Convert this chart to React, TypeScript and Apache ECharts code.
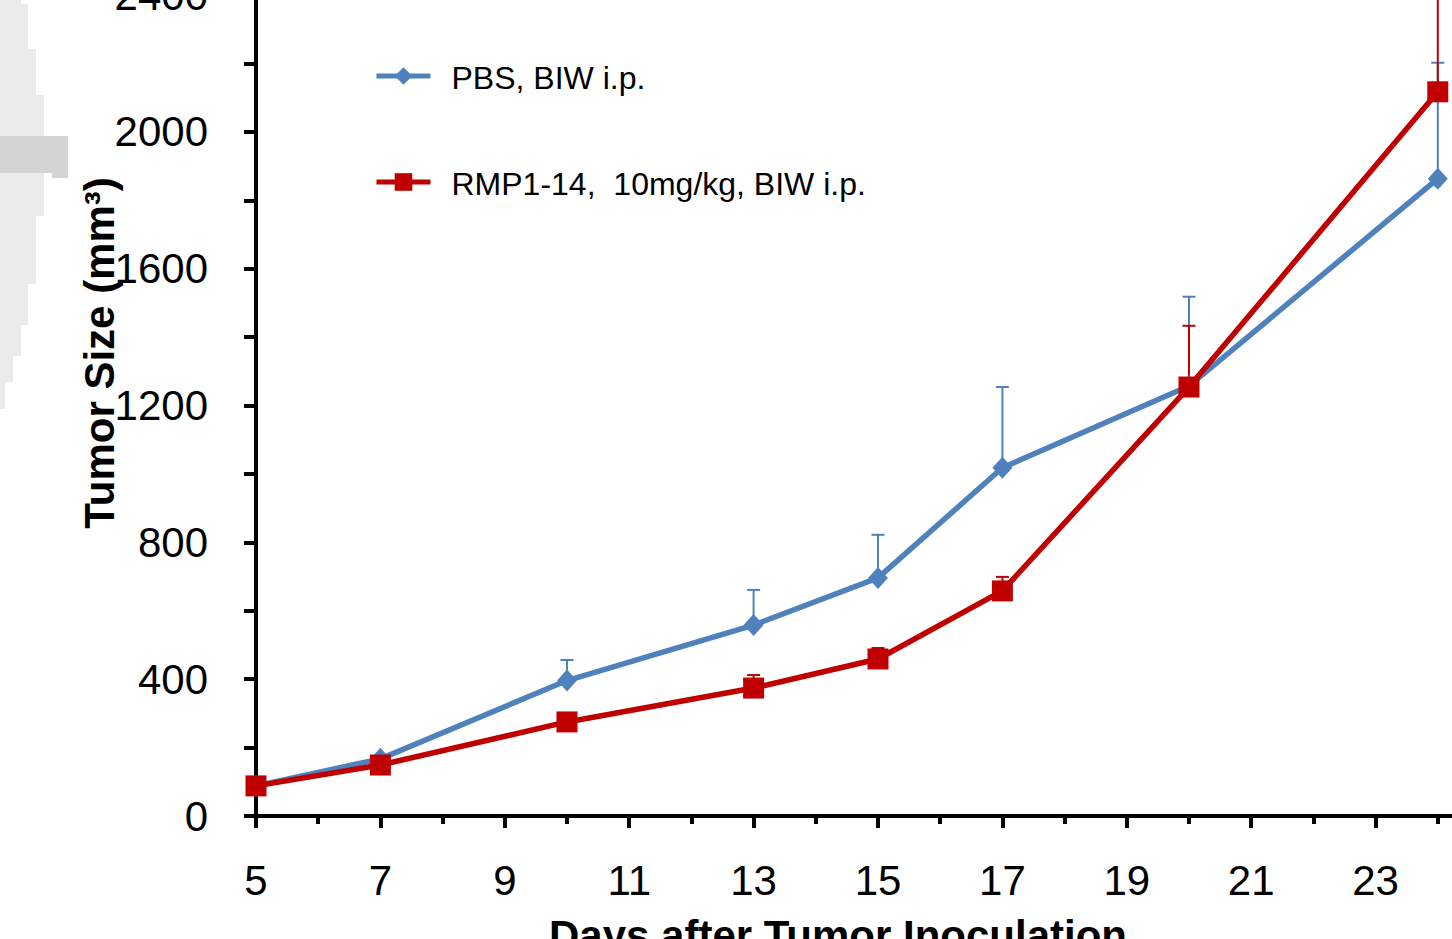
import React, { useEffect, useRef } from "react";
import * as echarts from "echarts";

const days = [5, 7, 10, 13, 15, 17, 20, 24];
const pbsMean = [88, 167, 396, 558, 696, 1018, 1257, 1863];
const pbsErr = [6, 10, 60, 103, 126, 236, 261, 339];
const rmpMean = [88, 149, 275, 374, 459, 658, 1254, 2117];
const rmpErr = [5, 8, 20, 38, 32, 41, 179, 420];
const seriesNames = ["PBS, BIW i.p.", "RMP1-14,  10mg/kg, BIW i.p."];
const colors = ["#4F81BD", "#C00000"];
const yTitle = "Tumor Size (mm³)";
const xTitle = "Days after Tumor Inoculation";

const FONT = '"Liberation Sans", Arial, sans-serif';
// the chart canvas is larger than the page and shifted, so that the plot is cropped as in the reference
const OFF_Y = 40;
const W = 1560;
const H = 939 + OFF_Y;

// light gray stepped artifact at the left edge [x, y, w, h, dark]
const artifact: [number, number, number, number, number][] = [
  [0, 0, 21, 4, 0],
  [0, 4, 28, 45, 0],
  [0, 49, 36, 46, 0],
  [0, 95, 44, 41, 0],
  [0, 136, 68, 37, 1],
  [52, 173, 16, 5, 1],
  [0, 173, 44, 43, 0],
  [0, 216, 36, 68, 0],
  [0, 284, 28, 41, 0],
  [0, 325, 21, 31, 0],
  [0, 356, 13, 26, 0],
  [0, 382, 5, 27, 0],
];

function errSeries(name: string, means: number[], errs: number[], color: string) {
  return {
    type: "custom",
    name,
    clip: false,
    silent: true,
    data: days.map((d, i) => [d, means[i], means[i] + errs[i]]),
    encode: { x: 0, y: [1, 2] },
    renderItem: (_params: any, api: any) => {
      const x = api.value(0);
      const p0 = api.coord([x, api.value(1)]);
      const p1 = api.coord([x, api.value(2)]);
      return {
        type: "group",
        children: [
          {
            type: "line",
            shape: { x1: p0[0], y1: p0[1], x2: p1[0], y2: p1[1] },
            style: { stroke: color, lineWidth: 2 },
          },
          {
            type: "line",
            shape: { x1: p1[0] - 6.5, y1: p1[1], x2: p1[0] + 6.5, y2: p1[1] },
            style: { stroke: color, lineWidth: 2 },
          },
        ],
      };
    },
  };
}

export default function App() {
  const ref = useRef<HTMLDivElement>(null);
  useEffect(() => {
    if (!ref.current) return;
    const chart = echarts.init(ref.current, undefined, { renderer: "svg" });
    const lineSeries = (i: number, means: number[], symbol: string, size: any) => ({
      type: "line",
      name: seriesNames[i],
      data: days.map((d, k) => [d, means[k]]),
      symbol,
      symbolSize: size,
      showSymbol: true,
      lineStyle: { color: colors[i], width: 5.5 },
      itemStyle: { color: colors[i] },
      emphasis: { disabled: true },
    });
    chart.setOption({
      animation: false,
      backgroundColor: "#ffffff",
      textStyle: { fontFamily: FONT },
      grid: { left: 256, width: 1244, top: OFF_Y - 5, height: 821, containLabel: false },
      xAxis: {
        type: "value",
        min: 5,
        max: 25,
        interval: 2,
        axisLine: { show: true, onZero: false, lineStyle: { color: "#000", width: 4 } },
        axisTick: { show: true, length: 12, lineStyle: { color: "#000", width: 4 } },
        minorTick: { show: true, splitNumber: 2, length: 8, lineStyle: { color: "#000", width: 4 } },
        splitLine: { show: false },
        axisLabel: {
          color: "#000",
          fontSize: 42,
          fontFamily: FONT,
          margin: 43,
          showMaxLabel: false,
          formatter: (v: number) => String(v),
        },
      },
      yAxis: {
        type: "value",
        min: 0,
        max: 2400,
        interval: 400,
        axisLine: { show: true, lineStyle: { color: "#000", width: 4 } },
        axisTick: { show: true, length: 12, lineStyle: { color: "#000", width: 4 } },
        minorTick: { show: true, splitNumber: 2, length: 12, lineStyle: { color: "#000", width: 4 } },
        splitLine: { show: false },
        axisLabel: { color: "#000", fontSize: 42, fontFamily: FONT, margin: 48, formatter: (v: number) => String(v) },
      },
      legend: {
        orient: "vertical",
        left: 369,
        top: 57 + OFF_Y,
        itemWidth: 54,
        itemHeight: 22,
        itemGap: 74,
        data: seriesNames,
        lineStyle: { width: 5 },
        formatter: (name: string) => `{t|${name}}`,
        textStyle: {
          color: "#000",
          fontSize: 32,
          fontFamily: FONT,
          rich: { t: { fontSize: 32, fontFamily: FONT, color: "#000", padding: [4, 0, 0, 16] } },
        },
      },
      graphic: [
        ...artifact.map(([x, y, w, h, dark]) => ({
          type: "rect",
          silent: true,
          z: -10,
          shape: { x, y: y + OFF_Y, width: w, height: h },
          style: { fill: dark ? "#d4d4d4" : "#ebebeb" },
        })),
        {
          type: "text",
          x: 99,
          y: 353 + OFF_Y,
          rotation: Math.PI / 2,
          silent: true,
          style: {
            text: yTitle,
            fontSize: 42,
            fontWeight: "bold",
            fontFamily: FONT,
            fill: "#000",
            align: "center",
            verticalAlign: "middle",
          },
        },
        {
          type: "text",
          x: 838,
          y: 935 + OFF_Y,
          silent: true,
          style: {
            text: xTitle,
            fontSize: 42,
            fontWeight: "bold",
            fontFamily: FONT,
            fill: "#000",
            align: "center",
            verticalAlign: "middle",
          },
        },
      ],
      series: [
        errSeries("pbs-err", pbsMean, pbsErr, colors[0]),
        lineSeries(0, pbsMean, "diamond", [20, 22]),
        errSeries("rmp-err", rmpMean, rmpErr, colors[1]),
        lineSeries(1, rmpMean, "rect", 21),
      ],
    });
    return () => chart.dispose();
  }, []);
  return (
    <div
      style={{ position: "fixed", left: 0, top: 0, width: 1452, height: 939, overflow: "hidden", background: "#fff" }}
    >
      <div
        ref={ref}
        style={{ position: "absolute", left: 0, top: -OFF_Y, width: W, height: H }}
      />
    </div>
  );
}
